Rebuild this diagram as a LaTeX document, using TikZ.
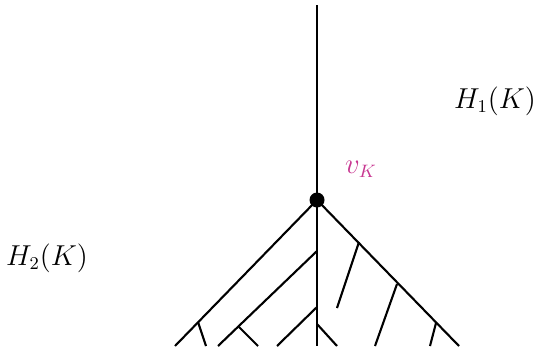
\documentclass[tikz,border=0pt]{standalone}
\usetikzlibrary{calc}
\definecolor{vmag}{RGB}{200,55,145}
\begin{document}
\begin{tikzpicture}[x=0.5pt,y=-0.5pt,
  edge/.style={line width=1.05pt},
  lbl/.style={inner sep=0pt,font=\fontsize{13.5}{16}\selectfont},
  vtx/.style={circle,fill=black,inner sep=0pt,minimum size=7.5pt}]
\useasboundingbox (0,0) rectangle (534,348);
% main vertex and trunk
\coordinate (top) at (317,5);
\coordinate (bot) at (317,346);
\node[vtx] (v) at (317,200) {};
\draw[edge] (top) -- (bot);
% outer diagonals
\coordinate (L) at (175,346);
\coordinate (R) at (459,346);
\draw[edge] (v.center) -- (L);
\draw[edge] (v.center) -- (R);
% branches off the trunk
\coordinate (t1) at (317,251);
\coordinate (t1e) at (218,346);
\coordinate (t2) at (317,307);
\coordinate (t2e) at (277,346);
\coordinate (t3) at (317,324);
\coordinate (t3e) at (337,346);
\draw[edge] (t1) -- (t1e);
\draw[edge] (t2) -- (t2e);
\draw[edge] (t3) -- (t3e);
% small branches on the left
\coordinate (l1) at (198,322);
\coordinate (l1e) at (206,346);
\draw[edge] (l1) -- (l1e);
\coordinate (m1) at (238,326);
\coordinate (m1e) at (258,346);
\draw[edge] (m1) -- (m1e);
% branches off the right diagonal
\coordinate (r1) at (359,242);
\coordinate (r1e) at (337,308);
\coordinate (r2) at (397,284);
\coordinate (r2e) at (375,346);
\coordinate (r3) at (436,323);
\coordinate (r3e) at (430,346);
\draw[edge] (r1) -- (r1e);
\draw[edge] (r2) -- (r2e);
\draw[edge] (r3) -- (r3e);
% labels
\node[lbl] (h1) at (495,101) {$H_1(K)$};
\node[lbl] (h2) at (47,258) {$H_2(K)$};
\node[lbl,text=vmag] (vk) at (361,169) {$v_K$};
\end{tikzpicture}
\end{document}
